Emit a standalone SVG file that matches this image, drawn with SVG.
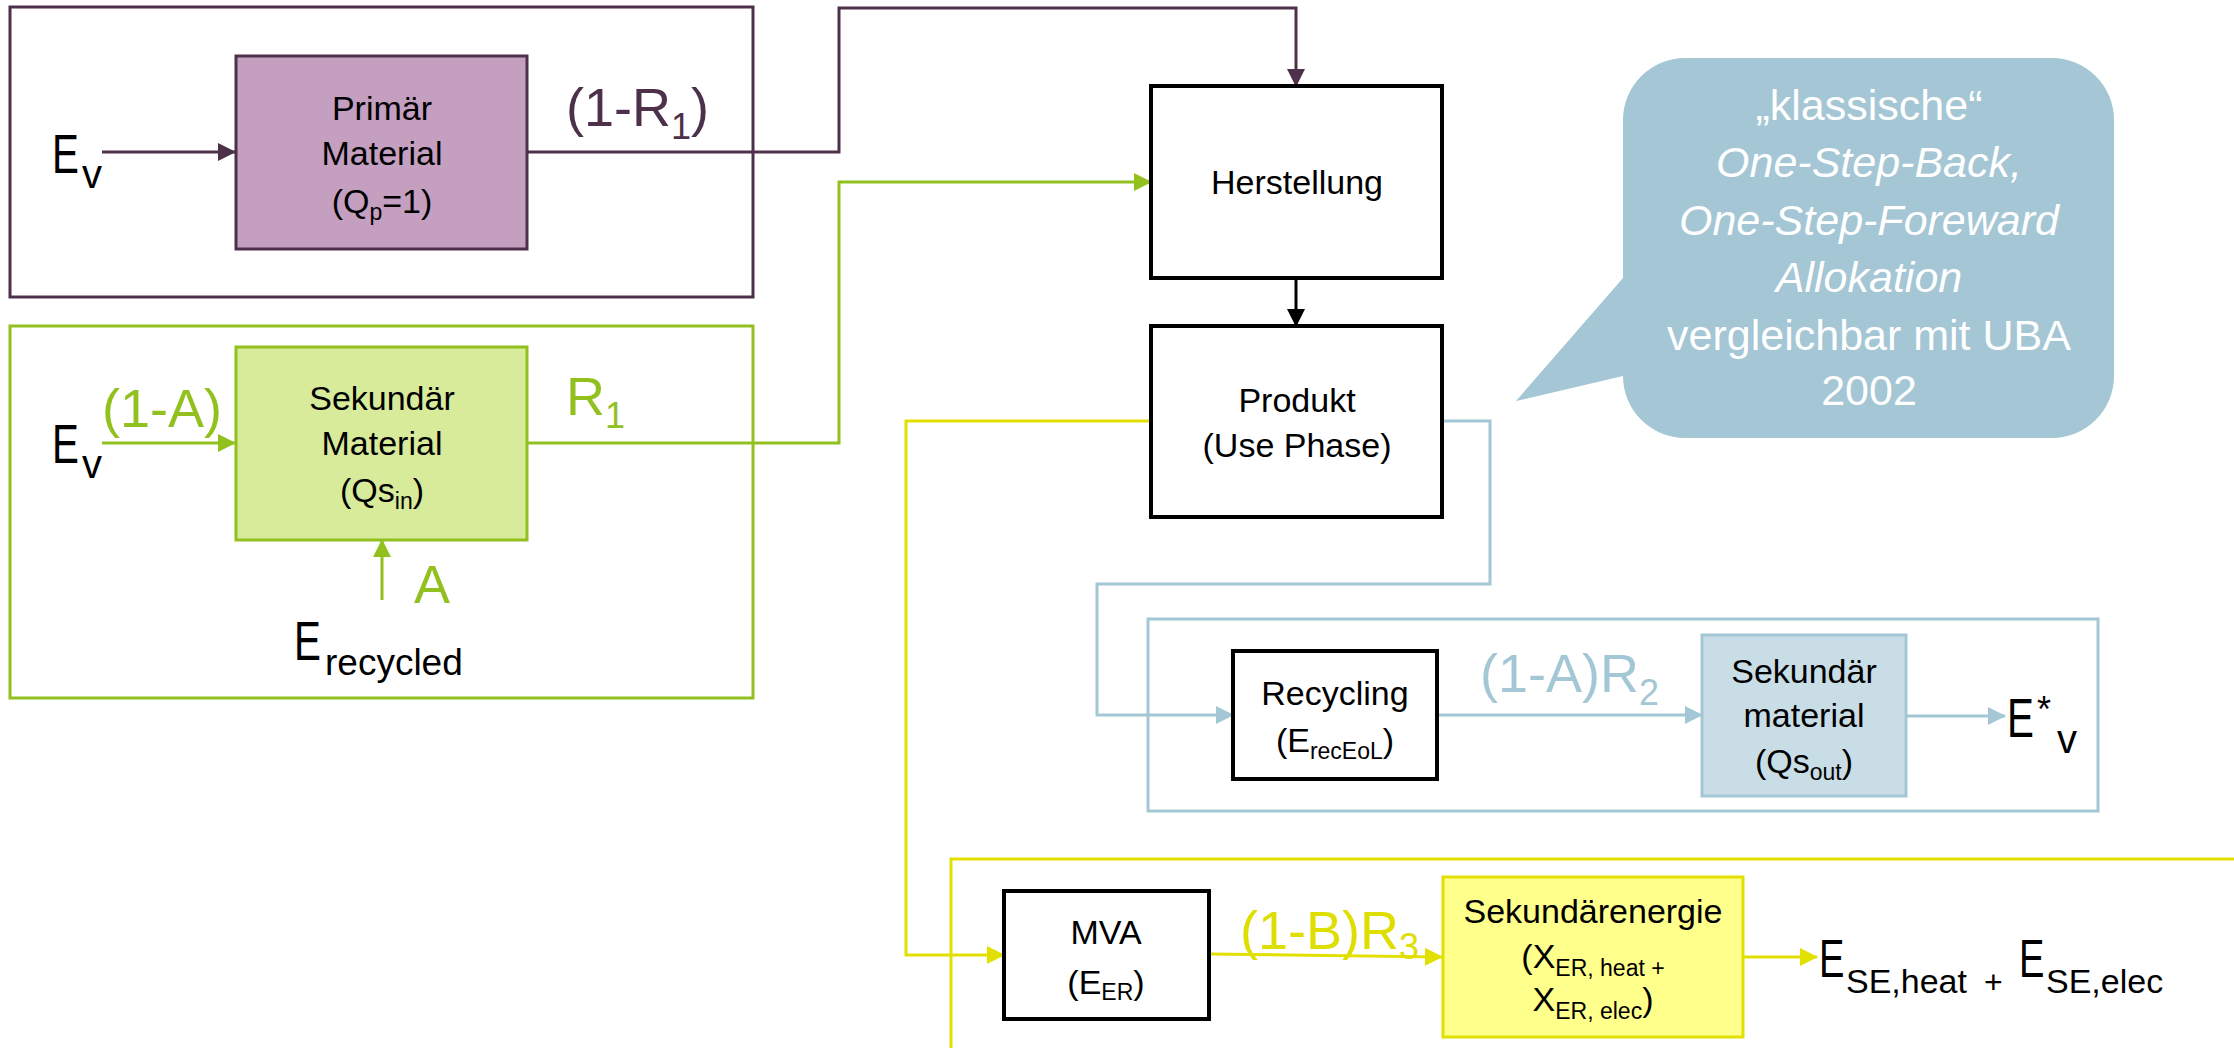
<svg xmlns="http://www.w3.org/2000/svg" width="2234" height="1048" viewBox="0 0 2234 1048">
<defs>
<style>
text{font-family:"Liberation Sans",Arial,sans-serif;fill:#000}
.bx{font-size:34px;text-anchor:middle}
.sb{font-size:23px}
.big{font-size:54px}
.bigsub{font-size:36px}
.ev{font-size:56px}
.evs{font-size:40px}
.call{font-size:43px;fill:#fff;text-anchor:middle}
.it{font-style:italic}
.ln{fill:none;stroke-width:3}
.pu{stroke:#4d3049}
.gr{stroke:#92c11f}
.bl{stroke:#a4c7d5}
.ye{stroke:#e1e000}
.bk{stroke:#000}
</style>
<marker id="aPu" markerUnits="userSpaceOnUse" markerWidth="18" markerHeight="18" refX="17" refY="9" orient="auto"><path d="M0,0 L18,9 L0,18 Z" fill="#4d3049"/></marker>
<marker id="aGr" markerUnits="userSpaceOnUse" markerWidth="18" markerHeight="18" refX="17" refY="9" orient="auto"><path d="M0,0 L18,9 L0,18 Z" fill="#92c11f"/></marker>
<marker id="aBl" markerUnits="userSpaceOnUse" markerWidth="18" markerHeight="18" refX="17" refY="9" orient="auto"><path d="M0,0 L18,9 L0,18 Z" fill="#a4c7d5"/></marker>
<marker id="aYe" markerUnits="userSpaceOnUse" markerWidth="18" markerHeight="18" refX="17" refY="9" orient="auto"><path d="M0,0 L18,9 L0,18 Z" fill="#e1e000"/></marker>
<marker id="aBk" markerUnits="userSpaceOnUse" markerWidth="18" markerHeight="18" refX="17" refY="9" orient="auto"><path d="M0,0 L18,9 L0,18 Z" fill="#000"/></marker>
</defs>
<rect width="2234" height="1048" fill="#fff"/>

<!-- group frames -->
<g id="frame-primaer"><rect x="10" y="7" width="743" height="290" fill="none" stroke="#4d3049" stroke-width="3"/></g>
<g id="frame-sekundaer"><rect x="10" y="326" width="743" height="372" fill="none" stroke="#92c11f" stroke-width="3"/></g>
<g id="frame-recycling"><rect x="1148" y="619" width="950" height="192" fill="none" stroke="#a4c7d5" stroke-width="3"/></g>
<g id="frame-energie"><rect x="951" y="859" width="1400" height="300" fill="none" stroke="#e1e000" stroke-width="3"/></g>

<!-- connectors -->
<g id="connectors">
<path class="ln pu" d="M102,152 H235" marker-end="url(#aPu)"/>
<path class="ln pu" d="M527,152 H839 V8 H1296 V86" marker-end="url(#aPu)"/>
<path class="ln gr" d="M102,443 H235" marker-end="url(#aGr)"/>
<path class="ln gr" d="M382,600 V540" marker-end="url(#aGr)"/>
<path class="ln gr" d="M527,443 H839 V182 H1151" marker-end="url(#aGr)"/>
<path class="ln bk" d="M1296,278 V326" marker-end="url(#aBk)"/>
<path class="ln bl" d="M1442,421 H1490 V584 H1097 V715 H1233" marker-end="url(#aBl)"/>
<path class="ln bl" d="M1437,715 H1702" marker-end="url(#aBl)"/>
<path class="ln bl" d="M1906,716 H2005" marker-end="url(#aBl)"/>
<path class="ln ye" d="M1151,421 H906 V955 H1004" marker-end="url(#aYe)"/>
<path class="ln ye" d="M1209,954 L1442,957" marker-end="url(#aYe)"/>
<path class="ln ye" d="M1743,957 H1817" marker-end="url(#aYe)"/>
</g>

<!-- nodes -->
<g id="primaer-material">
<rect x="236" y="56" width="291" height="193" fill="#c49fc0" stroke="#4d3049" stroke-width="3"/>
<text class="bx" x="382" y="120">Primär</text>
<text class="bx" x="382" y="165">Material</text>
<text class="bx" x="382" y="213">(Q<tspan class="sb" dy="7">p</tspan><tspan dy="-7">=1)</tspan></text>
</g>
<g id="sekundaer-material">
<rect x="236" y="347" width="291" height="193" fill="#d7eb9b" stroke="#92c11f" stroke-width="3"/>
<text class="bx" x="382" y="410">Sekundär</text>
<text class="bx" x="382" y="455">Material</text>
<text class="bx" x="382" y="502">(Qs<tspan class="sb" dy="7">in</tspan><tspan dy="-7">)</tspan></text>
</g>
<g id="herstellung">
<rect x="1151" y="86" width="291" height="192" fill="#fff" stroke="#000" stroke-width="4"/>
<text class="bx" x="1297" y="194">Herstellung</text>
</g>
<g id="produkt">
<rect x="1151" y="326" width="291" height="191" fill="#fff" stroke="#000" stroke-width="4"/>
<text class="bx" x="1297" y="412">Produkt</text>
<text class="bx" x="1297" y="457">(Use Phase)</text>
</g>
<g id="recycling">
<rect x="1233" y="651" width="204" height="128" fill="#fff" stroke="#000" stroke-width="4"/>
<text class="bx" x="1335" y="705">Recycling</text>
<text class="bx" x="1335" y="752">(E<tspan class="sb" dy="7">recEoL</tspan><tspan dy="-7">)</tspan></text>
</g>
<g id="sekundaer-material-out">
<rect x="1702" y="635" width="204" height="161" fill="#c8dde6" stroke="#a4c7d5" stroke-width="3"/>
<text class="bx" x="1804" y="683">Sekundär</text>
<text class="bx" x="1804" y="727">material</text>
<text class="bx" x="1804" y="773">(Qs<tspan class="sb" dy="7">out</tspan><tspan dy="-7">)</tspan></text>
</g>
<g id="mva">
<rect x="1004" y="891" width="205" height="128" fill="#fff" stroke="#000" stroke-width="4"/>
<text class="bx" x="1106" y="944">MVA</text>
<text class="bx" x="1106" y="994">(E<tspan class="sb" dy="6">ER</tspan><tspan dy="-6">)</tspan></text>
</g>
<g id="sekundaerenergie">
<rect x="1443" y="877" width="300" height="160" fill="#ffff8c" stroke="#e1e000" stroke-width="3"/>
<text class="bx" x="1593" y="923">Sekundärenergie</text>
<text class="bx" x="1593" y="968">(X<tspan class="sb" dy="8">ER, heat +</tspan></text>
<text class="bx" x="1593" y="1011">X<tspan class="sb" dy="8">ER, elec</tspan><tspan dy="-8">)</tspan></text>
</g>
<g id="callout">
<path d="M1685,58 H2052 A62,62 0 0 1 2114,120 V376 A62,62 0 0 1 2052,438 H1685 A62,62 0 0 1 1623,376 L1516,401 L1623,278 V120 A62,62 0 0 1 1685,58 Z" fill="#a4c6d5"/>
<text class="call" x="1869" y="120">„klassische“</text>
<text class="call it" x="1869" y="177">One-Step-Back,</text>
<text class="call it" x="1869" y="235">One-Step-Foreward</text>
<text class="call it" x="1869" y="292">Allokation</text>
<text class="call" x="1869" y="350">vergleichbar mit UBA</text>
<text class="call" x="1869" y="405">2002</text>
</g>

<!-- flow labels -->
<g id="labels">
<text class="ev" transform="translate(52,173) scale(0.72,1)">E</text>
<text class="evs" x="82" y="188">v</text>
<text class="ev" transform="translate(52,463) scale(0.72,1)">E</text>
<text class="evs" x="82" y="478">v</text>
<text class="big" x="566" y="126" style="fill:#4d3049">(1-R<tspan class="bigsub" dy="13">1</tspan><tspan dy="-13">)</tspan></text>
<text class="big" x="102" y="427" style="fill:#92c11f">(1-A)</text>
<text class="big" x="566" y="415" style="fill:#92c11f">R<tspan class="bigsub" dy="13">1</tspan></text>
<text class="big" x="414" y="603" style="fill:#92c11f">A</text>
<text class="ev" transform="translate(294,660) scale(0.72,1)">E</text>
<text style="font-size:37px" x="325" y="675">recycled</text>
<text class="big" x="1480" y="692" style="fill:#a4c7d5">(1-A)R<tspan class="bigsub" dy="13">2</tspan></text>
<text class="ev" transform="translate(2007,737) scale(0.72,1)">E</text>
<text style="font-size:36px" x="2037" y="722">*</text>
<text class="evs" x="2057" y="753">v</text>
<text class="big" x="1240" y="949" style="fill:#dede00">(1-B)R<tspan class="bigsub" dy="10">3</tspan></text>
<text style="font-size:53px" transform="translate(1819,977) scale(0.72,1)">E</text>
<text style="font-size:34px" x="1846" y="993">SE,heat</text>
<text style="font-size:32px" x="1984" y="993">+</text>
<text style="font-size:53px" transform="translate(2019,977) scale(0.72,1)">E</text>
<text style="font-size:34px" x="2046" y="993">SE,elec</text>
</g>
</svg>
